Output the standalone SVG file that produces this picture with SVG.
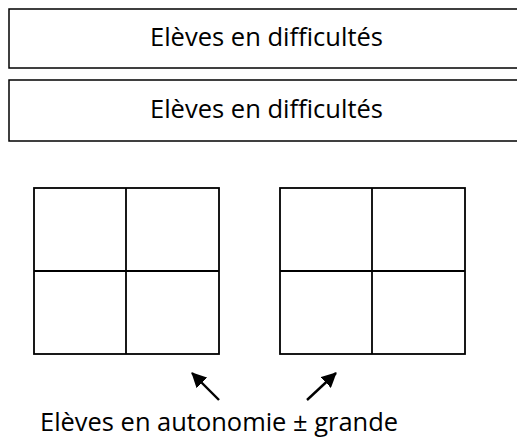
<svg xmlns="http://www.w3.org/2000/svg" width="517" height="439" viewBox="0 0 517 439">
<defs>
<style>
.box{fill:#fff;stroke:#000;stroke-width:1.5}
.grid{fill:none;stroke:#000;stroke-width:1.8}
.t{font-family:"Open Sans","Liberation Sans",sans-serif;fill:#000}
.arr{stroke:#000;stroke-width:2.4;fill:none;marker-end:url(#ah)}
</style>
<marker id="ah" markerWidth="15" markerHeight="15" refX="14" refY="7.5" orient="auto" markerUnits="userSpaceOnUse">
<path d="M0,0 L15,7.5 L0,15 Z" fill="#000"/>
</marker>
</defs>
<g id="box1">
<rect class="box" x="9" y="9" width="520" height="59"/>
<text class="t" x="266.5" y="46" font-size="25.5" text-anchor="middle" textLength="233" lengthAdjust="spacingAndGlyphs">Elèves en difficultés</text>
</g>
<g id="box2">
<rect class="box" x="9" y="80" width="520" height="61"/>
<text class="t" x="266.5" y="118" font-size="25.5" text-anchor="middle" textLength="233" lengthAdjust="spacingAndGlyphs">Elèves en difficultés</text>
</g>
<g id="grid1">
<rect class="grid" x="34" y="188" width="185" height="166"/>
<line class="grid" x1="126" y1="188" x2="126" y2="354"/>
<line class="grid" x1="34" y1="271" x2="219" y2="271"/>
</g>
<g id="grid2">
<rect class="grid" x="280" y="188" width="185" height="166"/>
<line class="grid" x1="372" y1="188" x2="372" y2="354"/>
<line class="grid" x1="280" y1="271" x2="465" y2="271"/>
</g>
<g id="connectors">
<line class="arr" x1="219" y1="400" x2="192" y2="373"/>
<line class="arr" x1="307" y1="400" x2="336" y2="373"/>
</g>
<g id="label">
<text class="t" x="40" y="431" font-size="25.5" textLength="358" lengthAdjust="spacingAndGlyphs">Elèves en autonomie ± grande</text>
</g>
</svg>
